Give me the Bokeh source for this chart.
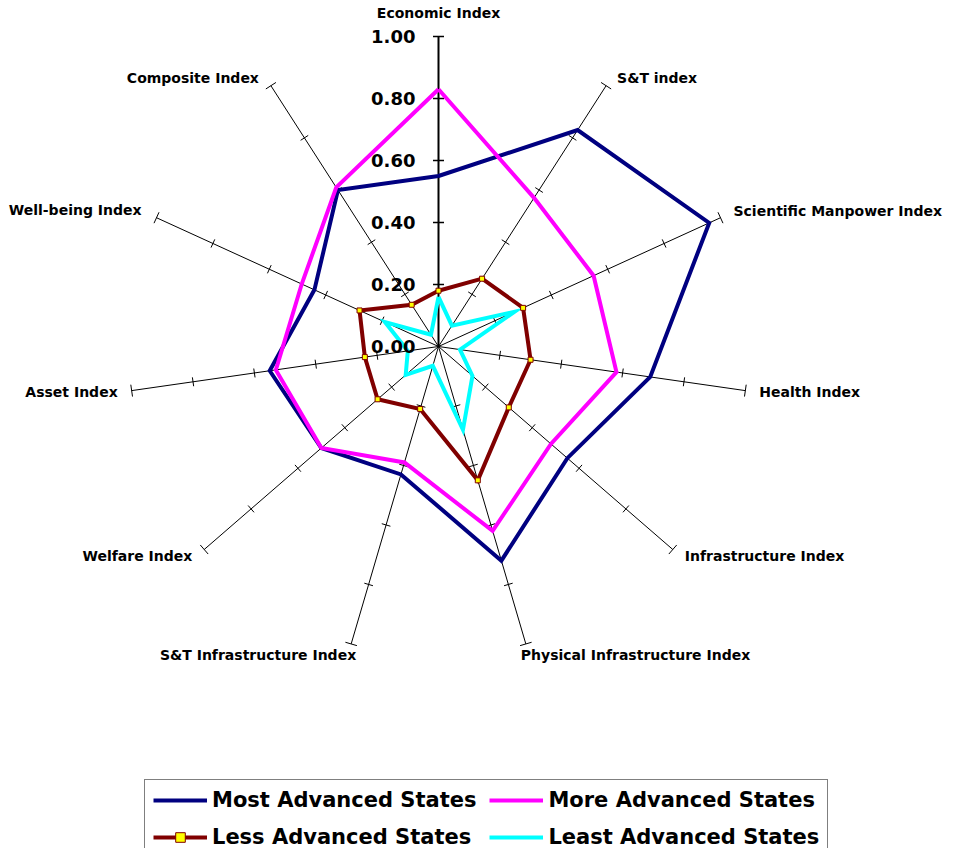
import numpy as np
from bokeh.plotting import figure
from bokeh.models import ColumnDataSource, Legend, LegendItem, Range1d
from bokeh.core.properties import value
from bokeh.embed import file_html
from bokeh.resources import INLINE

# ---------------- data ----------------
categories = ["Economic Index", "S&T index", "Scientific Manpower Index", "Health Index",
              "Infrastructure Index", "Physical Infrastructure Index", "S&T Infrastructure Index",
              "Welfare Index", "Asset Index", "Well-being Index", "Composite Index"]
most_advanced = [0.55, 0.83, 0.96, 0.69, 0.55, 0.72, 0.43, 0.50, 0.55, 0.44, 0.60]
more_advanced = [0.83, 0.57, 0.55, 0.58, 0.48, 0.62, 0.39, 0.50, 0.53, 0.485, 0.61]
less_advanced = [0.18, 0.26, 0.30, 0.30, 0.30, 0.45, 0.21, 0.26, 0.24, 0.28, 0.16]
least_advanced = [0.16, 0.08, 0.27, 0.07, 0.145, 0.28, 0.065, 0.14, 0.10, 0.19, 0.045]
series_names = ["Most Advanced States", "More Advanced States",
                "Less Advanced States", "Least Advanced States"]
tick_values = [0.0, 0.2, 0.4, 0.6, 0.8, 1.0]
tick_labels = ["0.00", "0.20", "0.40", "0.60", "0.80", "1.00"]

# ---------------- layout / style ----------------
W, H = 952, 848
PX = 310.0              # pixels per unit radius
CX, CY = 438.0, 346.0   # centre of the radar in frame pixels (from top-left)
FONT = value("DejaVu Sans")

p = figure(width=W, height=H, output_backend="svg", toolbar_location=None,
           x_range=Range1d(-CX / PX, (W - CX) / PX),
           y_range=Range1d(-(H - CY) / PX, CY / PX),
           x_axis_location=None, y_axis_location=None,
           min_border=0, outline_line_color=None)
p.grid.visible = False
p.background_fill_color = "white"
p.border_fill_color = "white"

n = len(categories)
theta = np.pi / 2 - 2 * np.pi * np.arange(n) / n
ux, uy = np.cos(theta), np.sin(theta)
rmax = tick_values[-1]

# spokes
p.segment(x0=np.zeros(n - 1), y0=np.zeros(n - 1), x1=rmax * ux[1:], y1=rmax * uy[1:],
          line_color="black", line_width=1)
p.segment(x0=[0], y0=[0], x1=[rmax * ux[0]], y1=[rmax * uy[0]],
          line_color="black", line_width=2)

# tick marks perpendicular to each spoke
tx0, ty0, tx1, ty1, tw = [], [], [], [], []
for i in range(n):
    for v in tick_values[1:]:
        if i == 0:
            half = 5.5 / PX
        else:
            half = (6.0 if v == rmax else 4.5) / PX
        cx, cy = v * ux[i], v * uy[i]
        nx, ny = -uy[i], ux[i]
        tx0.append(cx - half * nx); ty0.append(cy - half * ny)
        tx1.append(cx + half * nx); ty1.append(cy + half * ny)
        tw.append(1.5 if i == 0 else 1)
p.segment(x0=tx0, y0=ty0, x1=tx1, y1=ty1, line_color="black", line_width=tw)


def closed(vals):
    v = np.array(list(vals) + [vals[0]])
    u = np.append(ux, ux[0])
    w = np.append(uy, uy[0])
    return v * u, v * w


colors = ["#000080", "#FF00FF", "#800000", "#00FFFF"]
renderers = []
for vals, col in zip([most_advanced, more_advanced, less_advanced, least_advanced], colors):
    xs, ys = closed(vals)
    r = p.line(xs, ys, line_color=col, line_width=4, line_join="miter")
    renderers.append([r])

lx, ly = np.array(less_advanced) * ux, np.array(less_advanced) * uy
rm = p.scatter(lx, ly, marker="square", size=5, fill_color="#FFFF00",
               line_color="#800000", line_width=1)
renderers[2].append(rm)

# axis value labels
p.text(x=[0] * len(tick_values), y=tick_values, text=tick_labels,
       text_align="right", text_baseline="middle", x_offset=-23,
       text_font=FONT, text_font_style="bold", text_font_size="18px", text_color="black")

# category labels
aligns = ["center", "left", "left", "left", "left", "left",
          "right", "right", "right", "right", "right"]
xoffs = [0, 11, 13, 14, 12, -5, 5, -12, -14, -15, -12]
yoffs = [-24, -8, -7, 1, 6, 11, 11, 6, 1, -8, -8]
src = ColumnDataSource(dict(x=rmax * ux, y=rmax * uy, t=categories, a=aligns, xo=xoffs, yo=yoffs))
p.text(x="x", y="y", text="t", text_align="a", x_offset="xo", y_offset="yo", source=src,
       text_baseline="middle", text_font=FONT, text_font_style="bold",
       text_font_size="14px", text_color="black")

# legend
items = [LegendItem(label=name, renderers=rs) for name, rs in zip(series_names, renderers)]
legend = Legend(items=items, orientation="horizontal", ncols=2, location=(144, -10),
                label_text_font="DejaVu Sans", label_text_font_style="bold",
                label_text_font_size="21px", label_text_color="black",
                glyph_width=54, glyph_height=24, label_height=24, label_standoff=5,
                spacing=13, padding=8, margin=0,
                border_line_color="black", border_line_width=1,
                background_fill_color="white", background_fill_alpha=1.0)
p.add_layout(legend)

open("out.html", "w").write(file_html(p, INLINE))
